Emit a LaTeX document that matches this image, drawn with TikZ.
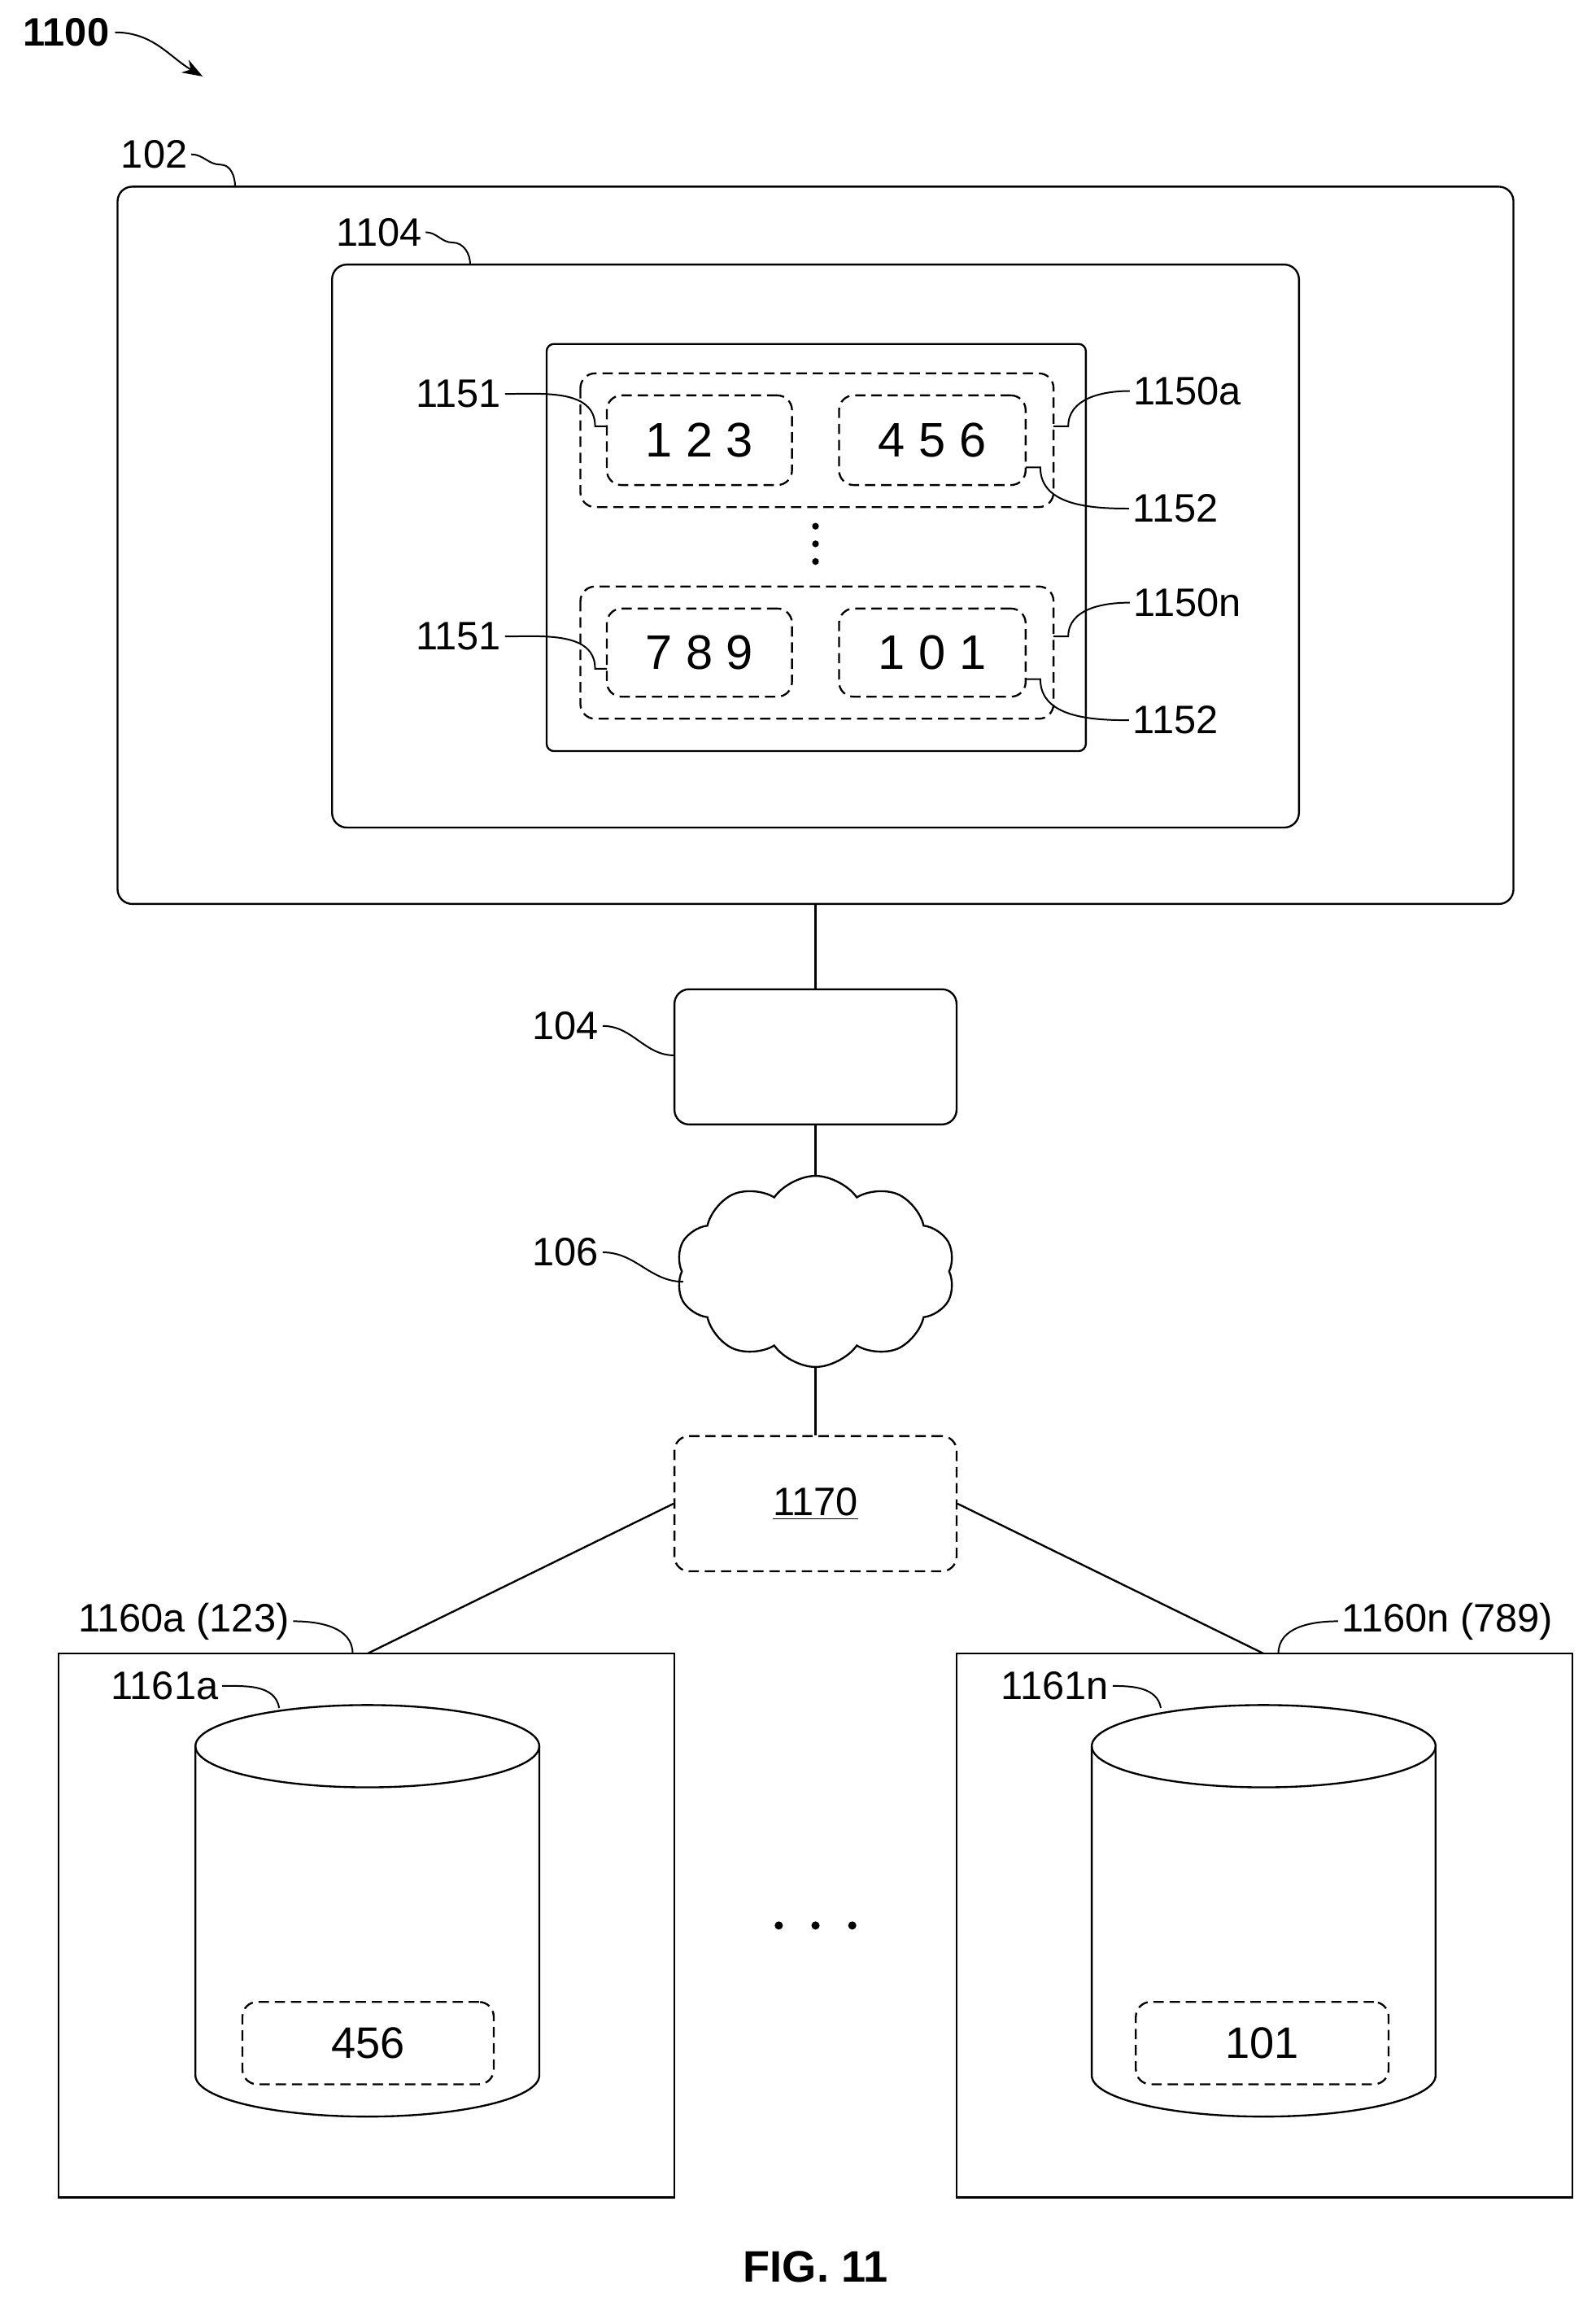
\documentclass[tikz,border=0pt]{standalone}
\usepackage{fontspec}
\setmainfont{Liberation Sans}
\usetikzlibrary{shapes.geometric, shapes.symbols, arrows.meta, positioning}

\begin{document}
\begin{tikzpicture}[x=1pt, y=-1pt, line width=1.3pt,
    lbl/.style={font=\fontsize{27}{30}\selectfont, inner sep=2pt},
    box/.style={draw, rounded corners=10pt},
    dbox/.style={draw, dash pattern=on 7pt off 4pt, rounded corners=10pt, font=\fontsize{33}{36}\selectfont},
    lead/.style={line width=1.1pt}]
\useasboundingbox (0,0) rectangle (1086,1575);

% title
\node[font=\fontsize{27}{30}\selectfont\bfseries] (t1100) at (45,22) {1100};
\draw[lead, -{Stealth[length=14pt, width=10pt]}] (t1100.east) to[out=0, in=150] (138,52);

% computer
\draw[box] (80,127) rectangle (1030,615);
\node[lbl] (l102) at (105,105) {102};
\draw[lead] (l102.east) to[out=0, in=180] (150,112) to[out=0, in=90] (160,127);
\draw[box] (226,180) rectangle (884,563);
\node[lbl] (l1104) at (258,158) {1104};
\draw[lead] (l1104.east) to[out=0, in=180] (308,165) to[out=0, in=90] (320,180);
\draw[rounded corners=5pt] (372,234) rectangle (739,511);

% entries
\draw[dbox] (395,254) rectangle (717,345);
\node[dbox, minimum width=126pt, minimum height=61pt] (e123) at (476,299.5) {1 2 3};
\node[dbox, minimum width=127pt, minimum height=61pt] (e456) at (634.5,299.5) {4 5 6};
\draw[dbox] (395,399) rectangle (717,489);
\node[dbox, minimum width=126pt, minimum height=60pt] (e789) at (476,444) {7 8 9};
\node[dbox, minimum width=127pt, minimum height=60pt] (e101) at (634.5,444) {1 0 1};
\foreach \y in {358,370,382} \fill (555,\y) circle (2.3pt);

% entry labels
\node[lbl] (l1151a) at (312,268) {1151};
\draw[lead] (l1151a.east) to[out=0, in=90] (405,290) -- (413,290);
\node[lbl] (l1150a) at (808,266) {1150a};
\draw[lead] (l1150a.west) to[out=180, in=90] (727,290) -- (717,290);
\node[lbl] (l1152a) at (800,346) {1152};
\draw[lead] (l1152a.west) to[out=180, in=-90] (708,318) -- (698,318);
\node[lbl] (l1151n) at (312,433) {1151};
\draw[lead] (l1151n.east) to[out=0, in=90] (405,455) -- (413,455);
\node[lbl] (l1150n) at (808,410) {1150n};
\draw[lead] (l1150n.west) to[out=180, in=90] (727,433) -- (717,433);
\node[lbl] (l1152n) at (800,490) {1152};
\draw[lead] (l1152n.west) to[out=180, in=-90] (708,462) -- (698,462);

% device and network
\node[box, minimum width=192pt, minimum height=92pt] (dev) at (555,719) {};
\node[lbl] (l104) at (385,698) {104};
\draw[lead] (l104.east) to[out=0, in=180] (459,718);
\draw (555,615) -- (dev.north);
\node[cloud, draw, cloud puffs=10, cloud puff arc=110, aspect=1.4, minimum width=190pt, minimum height=130pt] (net) at (555,865) {};
\node[lbl] (l106) at (385,852) {106};
\draw[lead] (l106.east) to[out=0, in=180] (465,872);
\draw (dev.south) -- (net.north);
\node[dbox, minimum width=192pt, minimum height=92pt, font=\fontsize{27}{30}\selectfont] (n1170) at (555,1023) {\underline{1170}};
\draw (net.south) -- (n1170.north);

% storage nodes
\draw (40,1125) rectangle (459,1495);
\draw (651,1125) rectangle (1070,1495);
\coordinate (sa) at (250,1125);
\coordinate (sn) at (860,1125);
\draw (n1170.west) -- (sa);
\draw (n1170.east) -- (sn);
\node[lbl] (l1160a) at (125,1103) {1160a (123)};
\draw[lead] (l1160a.east) to[out=0, in=90] (240,1125);
\node[lbl] (l1160n) at (985,1103) {1160n (789)};
\draw[lead] (l1160n.west) to[out=180, in=90] (870,1125);

% databases
\foreach \cx in {250,860} {
  \draw (\cx,1188) ellipse (117pt and 28pt);
  \draw (\cx-117,1188) -- (\cx-117,1412) arc[start angle=180, end angle=360, x radius=117pt, y radius=28pt] -- (\cx+117,1188);
}
\node[lbl] (l1161a) at (112,1147) {1161a};
\draw[lead] (l1161a.east) to[out=0, in=100] (190,1162);
\node[lbl] (l1161n) at (718,1147) {1161n};
\draw[lead] (l1161n.east) to[out=0, in=100] (790,1162);
\node[dbox, minimum width=171pt, minimum height=56pt, font=\fontsize{30}{34}\selectfont] (d456) at (250.5,1390) {456};
\node[dbox, minimum width=172pt, minimum height=56pt, font=\fontsize{30}{34}\selectfont] (d101) at (859,1390) {101};
\foreach \x in {530,555,580} \fill (\x,1310) circle (2.8pt);

\node[font=\fontsize{30}{34}\selectfont\bfseries] (fig) at (555,1542) {FIG. 11};
\end{tikzpicture}
\end{document}
